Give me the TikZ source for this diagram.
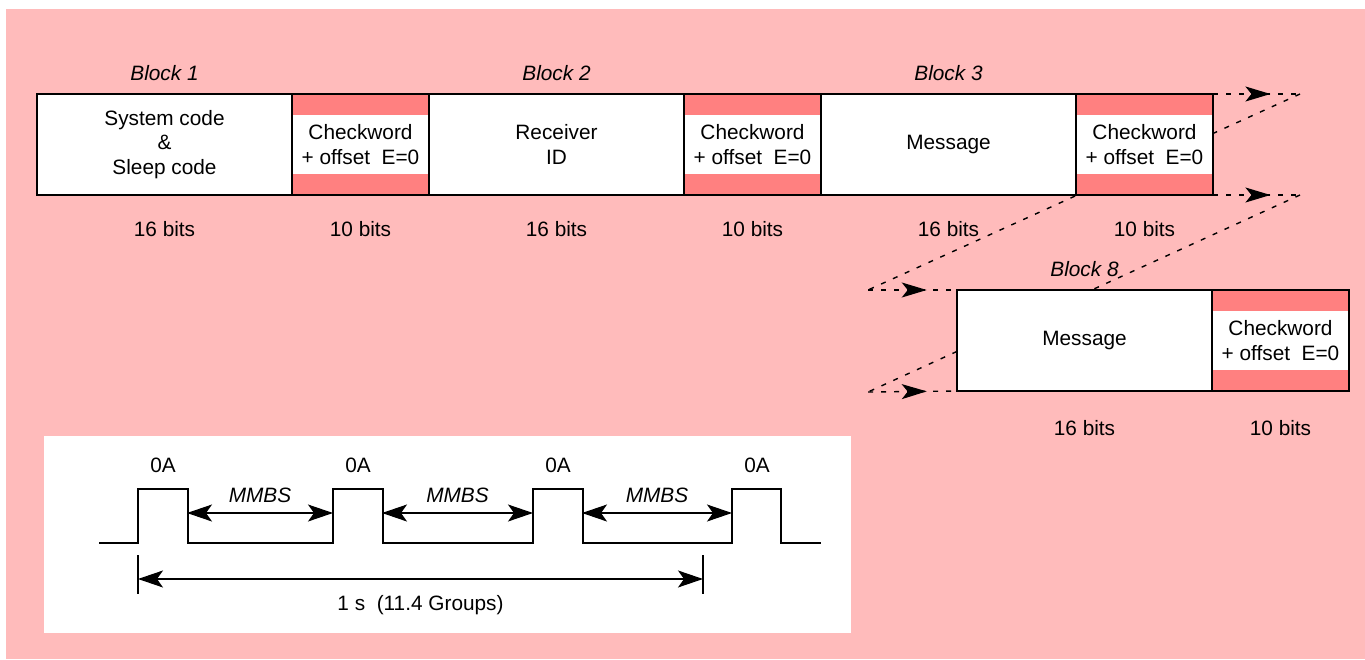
\documentclass[tikz,border=0pt]{standalone}
\usepackage{fontspec}
\setmainfont{Liberation Sans}
\usetikzlibrary{positioning,arrows.meta,decorations.markings,backgrounds,calc}
\definecolor{bgpink}{HTML}{FFBBBB}
\definecolor{stripe}{HTML}{FF8080}
\tikzset{
  blk/.style={draw, line width=0.75pt, fill=white, minimum width=127.5pt,
    minimum height=50.5pt, inner sep=0pt, outer sep=0pt, align=center},
  chk/.style={blk, minimum width=68.5pt, path picture={
    \fill[stripe] (path picture bounding box.north west) rectangle ([yshift=-10.5pt]path picture bounding box.north east);
    \fill[stripe] (path picture bounding box.south west) rectangle ([yshift=10.5pt]path picture bounding box.south east);}},
  blklab/.style={font=\itshape},
  bigtip/.tip={Stealth[length=12.5pt, width=7.5pt, inset=3pt]},
  dimtip/.tip={Stealth[length=12.5pt, width=8.5pt, inset=3pt]},
  flow/.style={line width=0.7pt, dash pattern=on 2.5pt off 4pt, postaction={decorate},
    decoration={markings, mark=at position 0.66 with {\arrow{bigtip}}}},
  link/.style={line width=0.7pt, dash pattern=on 2.5pt off 4pt},
  wave/.style={line width=0.55pt},
  dim/.style={line width=0.55pt, dimtip-dimtip}
}
\begin{document}
\fontsize{10.4}{12.3}\selectfont
\begin{tikzpicture}[x=0.5pt, y=-0.5pt]
  \useasboundingbox (0,0) rectangle (1365,659);

  % frame of blocks
  \node[blk, anchor=north west] (sys) at (37,94) {System code\\\&\\Sleep code};
  \node[chk, right=0pt of sys] (chk1) {Checkword\\+ offset\ \ E=0};
  \node[blk, right=0pt of chk1] (rcv) {Receiver\\ID};
  \node[chk, right=0pt of rcv] (chk2) {Checkword\\+ offset\ \ E=0};
  \node[blk, right=0pt of chk2] (msg) {Message};
  \node[chk, right=0pt of msg] (chk3) {Checkword\\+ offset\ \ E=0};
  \node[blk, anchor=north west] (msg8) at (957,290) {Message};
  \node[chk, right=0pt of msg8] (chk8) {Checkword\\+ offset\ \ E=0};

  \node[blklab, above=3pt of sys] (lb1) {Block 1};
  \node[blklab, above=3pt of rcv] (lb2) {Block 2};
  \node[blklab, above=3pt of msg] (lb3) {Block 3};
  \node[blklab, above=3pt of msg8] (lb8) {Block 8};

  \foreach \b/\n in {sys/16, chk1/10, rcv/16, chk2/10, msg/16, chk3/10}
    \node[below=9.5pt of \b] (bits-\b) {\n~bits};
  \node[below=11pt of msg8] (bits-msg8) {16 bits};
  \node[below=11pt of chk8] (bits-chk8) {10 bits};

  \coordinate (t1) at (1300,94);
  \coordinate (t2) at (1300,195);
  \coordinate (s1) at (868,290);
  \coordinate (s2) at (868,392);

  \begin{scope}[on background layer]
    \fill[white] (0,0) rectangle (1365,659);
    \fill[bgpink] (6,9) rectangle (1365,659);
    \draw[flow] (chk3.north east) -- (t1);
    \draw[flow] (chk3.south east) -- (t2);
    \draw[link] (t1) -- (s1);
    \draw[link] (t2) -- (s2);
    \draw[flow] (s1) -- (msg8.north west);
    \draw[flow] (s2) -- (msg8.south west);
  \end{scope}

  % group timing
  \fill[white] (44,436) rectangle (851,633);
  \draw[wave] (99,543) -| (138,489) -| (188,543) -| (333,489) -| (383,543)
    -| (533,489) -| (583,543) -| (732,489) -| (781,543) -- (821,543);
  \foreach \x [count=\i] in {138,333,533,732} {
    \coordinate (r\i) at (\x,513);
    \coordinate (f\i) at (\x+49,513);
    \coordinate (top\i) at (\x+25,489);
    \node[above=4.4pt of top\i] (oa\i) {0A};
  }
  \draw[dim] (f1) -- node[blklab, above=1.4pt] (mm1) {MMBS} (r2);
  \draw[dim] (f2) -- node[blklab, above=1.4pt] (mm2) {MMBS} (r3);
  \draw[dim] (f3) -- node[blklab, above=1.4pt] (mm3) {MMBS} (r4);

  \coordinate (ta) at (138,555);
  \coordinate (tb) at (138,594);
  \coordinate (tc) at (703,555);
  \coordinate (td) at (703,594);
  \draw[wave] (ta) -- (tb);
  \draw[wave] (tc) -- (td);
  \draw[dim] ($(ta)!0.615!(tb)$) -- node[below=4.7pt] (sec) {1 s\ \ (11.4 Groups)} ($(tc)!0.615!(td)$);
\end{tikzpicture}
\end{document}
